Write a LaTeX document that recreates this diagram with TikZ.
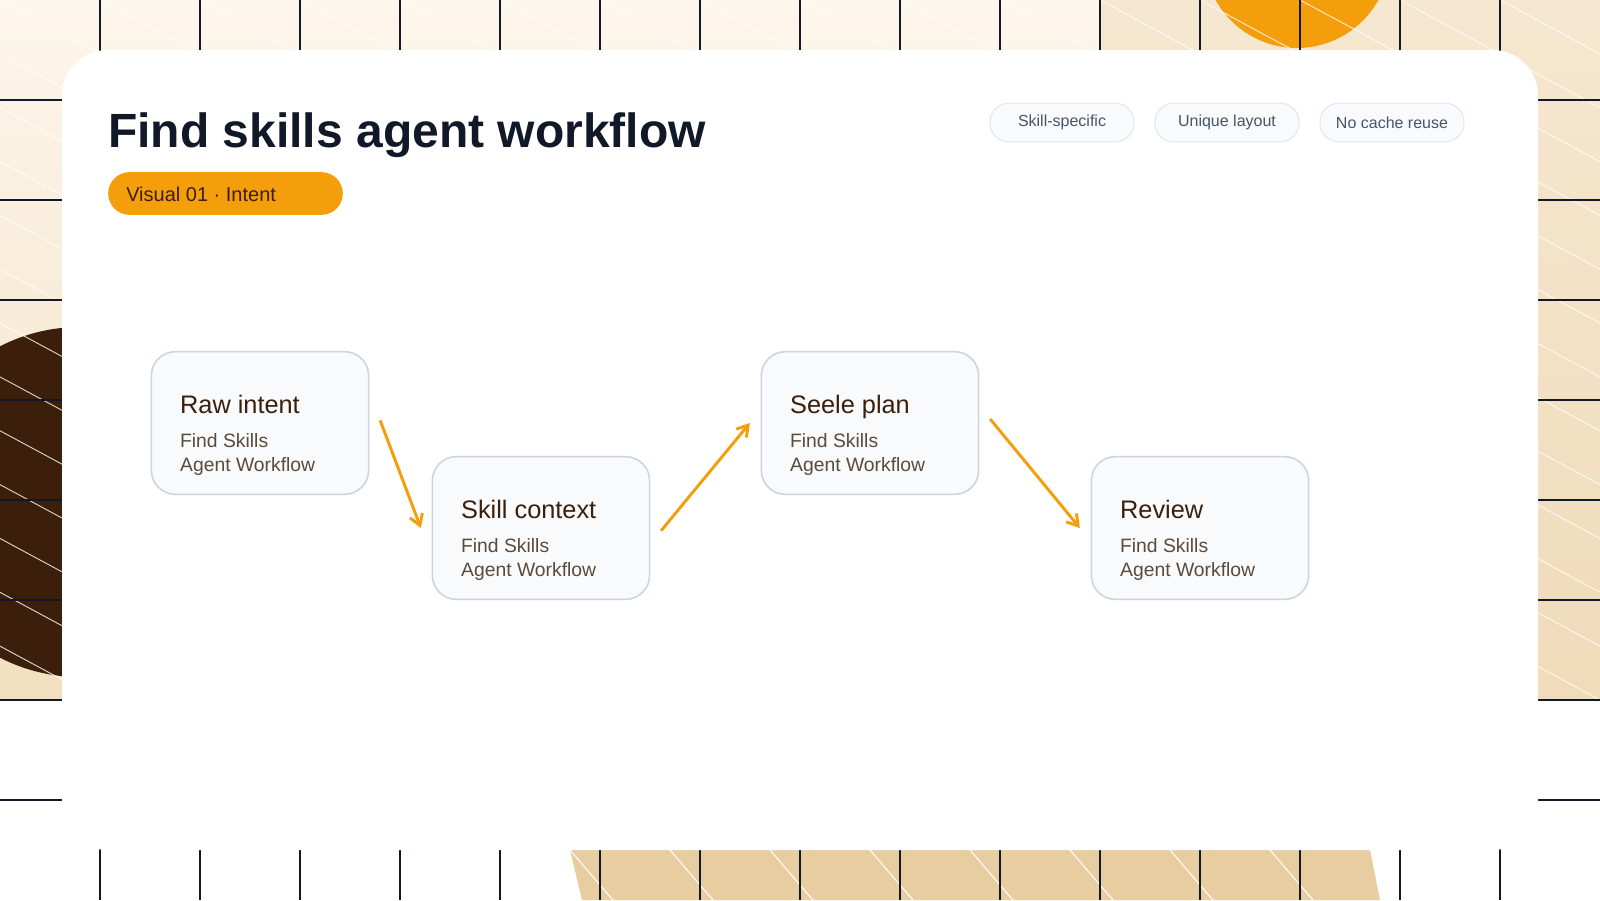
\documentclass[tikz,border=0pt]{standalone}
\usepackage{fontspec}
\setmainfont{Liberation Sans}
\usetikzlibrary{arrows.meta}
\definecolor{cream}{HTML}{FDF6EC}
\definecolor{tan}{HTML}{EFD9B5}
\definecolor{blob}{HTML}{E8CDA0}
\definecolor{brownd}{HTML}{3B1F0A}
\definecolor{orng}{HTML}{F59E0B}
\definecolor{navy}{HTML}{111827}
\definecolor{nfill}{HTML}{F8FAFC}
\definecolor{nline}{HTML}{CBD5E1}
\definecolor{tline}{HTML}{E2E8F0}
\definecolor{ttext}{HTML}{475569}
\definecolor{ntitle}{HTML}{3B1F0A}
\definecolor{nsub}{HTML}{5C4A3A}
\definecolor{grid}{HTML}{111827}
\tikzset{
  stepnode/.style={draw=nline, line width=1.2pt, fill=nfill, rounded corners=18pt, minimum width=163pt, minimum height=107pt, inner sep=0pt},
  ntitletext/.style={anchor=base west, inner sep=0pt, text=ntitle, font=\fontsize{19}{22}\selectfont},
  nsubtext/.style={anchor=north west, inner sep=0pt, text=nsub, font=\fontsize{14.5}{17.5}\selectfont, align=left},
  tag/.style={draw=tline, line width=0.8pt, fill=nfill, rounded corners=14pt, minimum width=108pt, minimum height=29pt, inner sep=0pt, text=ttext, font=\fontsize{12}{14}\selectfont},
  flow/.style={draw=orng, line width=2.2pt, -{Straight Barb[length=8pt,width=10pt]}}
}
\begin{document}
\begin{tikzpicture}[x=0.75pt,y=-0.75pt]
\useasboundingbox (0,0) rectangle (1600,900);
% background
\fill[white] (0,0) rectangle (1600,900);
\shade[top color=cream, bottom color=tan!80!cream] (0,0) rectangle (1600,700);
\shade[left color=cream!0!tan, right color=tan, opacity=0.5] (1100,0) rectangle (1600,700);
\fill[white] (0,700) rectangle (62,900);
\fill[brownd] (80,502) circle (175);
\fill[orng] (1297,-45) circle (93);
\fill[blob] (570,850) -- (1370,850) -- (1380,900) -- (582,900) -- cycle;
\begin{scope}
\clip (0,0) rectangle (1600,700);
\foreach \i in {-12,...,18} {
  \draw[white, line width=0.7pt, opacity=0.8] (\i*100,0) -- ++(1300,700);
}
\end{scope}
\begin{scope}
\clip (570,850) -- (1370,850) -- (1380,900) -- (582,900) -- cycle;
\foreach \i in {5,...,14} {\draw[white, line width=0.8pt] (\i*100+70,850) -- ++(60,70);}
\end{scope}
\foreach \x in {100,200,...,1500} \draw[grid, line width=0.9pt] (\x,0) -- (\x,900);
\foreach \y in {100,200,...,800} \draw[grid, line width=0.9pt] (0,\y) -- (1600,\y);
% card
\fill[white] (62,50) [rounded corners=34pt] rectangle (1538,850);
% title
\node[anchor=base west, inner sep=0pt, text=navy, font=\bfseries\fontsize{36}{40}\selectfont] (title) at (108,147) {Find skills agent workflow};
\node[fill=orng, rounded corners=16pt, minimum width=176pt, minimum height=32pt, inner sep=0pt] (pill) at (225.5,193.5) {};
\node[anchor=base west, inner sep=0pt, text=brownd, font=\fontsize{15}{18}\selectfont] (pilltext) at (126,201) {Visual 01 · Intent};
% tags
\node[tag] (t1) at (1062,122.5) {Skill-specific};
\node[tag] (t2) at (1227,122.5) {Unique layout};
\node[tag] (t3) at (1392,122.5) {No cache reuse};
% nodes
\node[stepnode] (raw) at (260,423) {};
\node[stepnode] (skill) at (541,528) {};
\node[stepnode] (seele) at (870,423) {};
\node[stepnode] (review) at (1200,528) {};
\foreach \n/\t in {raw/Raw intent, skill/Skill context, seele/Seele plan, review/Review} {
  \node[ntitletext] (\n-t) at ([xshift=22pt,yshift=-47pt]\n.north west) {\t};
  \node[nsubtext] (\n-s) at ([xshift=22pt,yshift=-62pt]\n.north west) {Find Skills\\Agent Workflow};
}
% arrows
\draw[flow] ([xshift=8pt,yshift=2pt]raw.east) -- ([xshift=-8pt]skill.west);
\draw[flow] ([xshift=8pt,yshift=-2pt]skill.east) -- ([xshift=-8pt]seele.west);
\draw[flow] ([xshift=8pt,yshift=3pt]seele.east) -- ([xshift=-8pt]review.west);
\end{tikzpicture}
\end{document}
